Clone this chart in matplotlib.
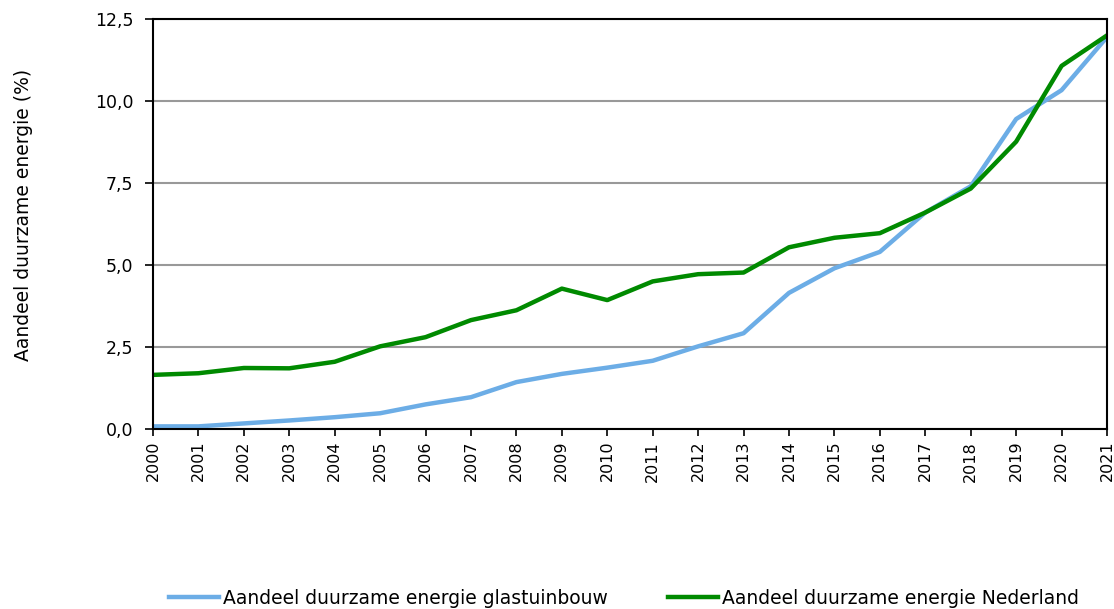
import matplotlib.pyplot as plt
from matplotlib.ticker import FuncFormatter

years = list(range(2000, 2022))
glastuinbouw = [0.08, 0.08, 0.17, 0.26, 0.36, 0.48, 0.75, 0.97, 1.43, 1.68, 1.87,
                2.08, 2.52, 2.92, 4.15, 4.90, 5.40, 6.60, 7.40, 9.45, 10.33, 11.95]
nederland = [1.65, 1.70, 1.86, 1.85, 2.05, 2.52, 2.80, 3.32, 3.62, 4.28, 3.93,
             4.50, 4.72, 4.77, 5.54, 5.83, 5.97, 6.60, 7.33, 8.76, 11.07, 12.00]
y_ticks = [0, 2.5, 5, 7.5, 10, 12.5]

plt.rcParams['font.family'] = ['DejaVu Sans']

fig = plt.figure(figsize=(11.14, 6.09), dpi=100)
ax = fig.add_axes([153 / 1114, 1 - 429 / 609, 954 / 1114, 410 / 609])

ax.plot(years, glastuinbouw, color='#6cade6', linewidth=3.2,
        label='Aandeel duurzame energie glastuinbouw')
ax.plot(years, nederland, color='#008a00', linewidth=3.2,
        label='Aandeel duurzame energie Nederland')

ax.set_xlim(2000, 2021)
ax.set_ylim(0, 12.5)
ax.set_xticks(years)
ax.set_xticklabels([str(y) for y in years], rotation=90, fontsize=11.5)
ax.set_yticks(y_ticks)
ax.yaxis.set_major_formatter(FuncFormatter(lambda v, p: f'{v:.1f}'.replace('.', ',')))
ax.tick_params(axis='y', labelsize=12.5, length=6, width=1.2, pad=8)
ax.tick_params(axis='x', length=5, width=1.2)
ax.grid(axis='y', color='#999999', linewidth=1.5)
ax.set_axisbelow(True)
for s in ax.spines.values():
    s.set_linewidth(1.5)
    s.set_color('black')

ax.set_ylabel('Aandeel duurzame energie (%)', fontsize=13.5)
ax.yaxis.set_label_coords(-0.126, 0.522)

fig.legend(loc='center', bbox_to_anchor=(0.56, 1 - 598 / 609), ncol=2,
           frameon=False, fontsize=13.5, handlelength=2.7, handletextpad=0.2,
           columnspacing=3.2)

fig.savefig('out.png', dpi=100)
